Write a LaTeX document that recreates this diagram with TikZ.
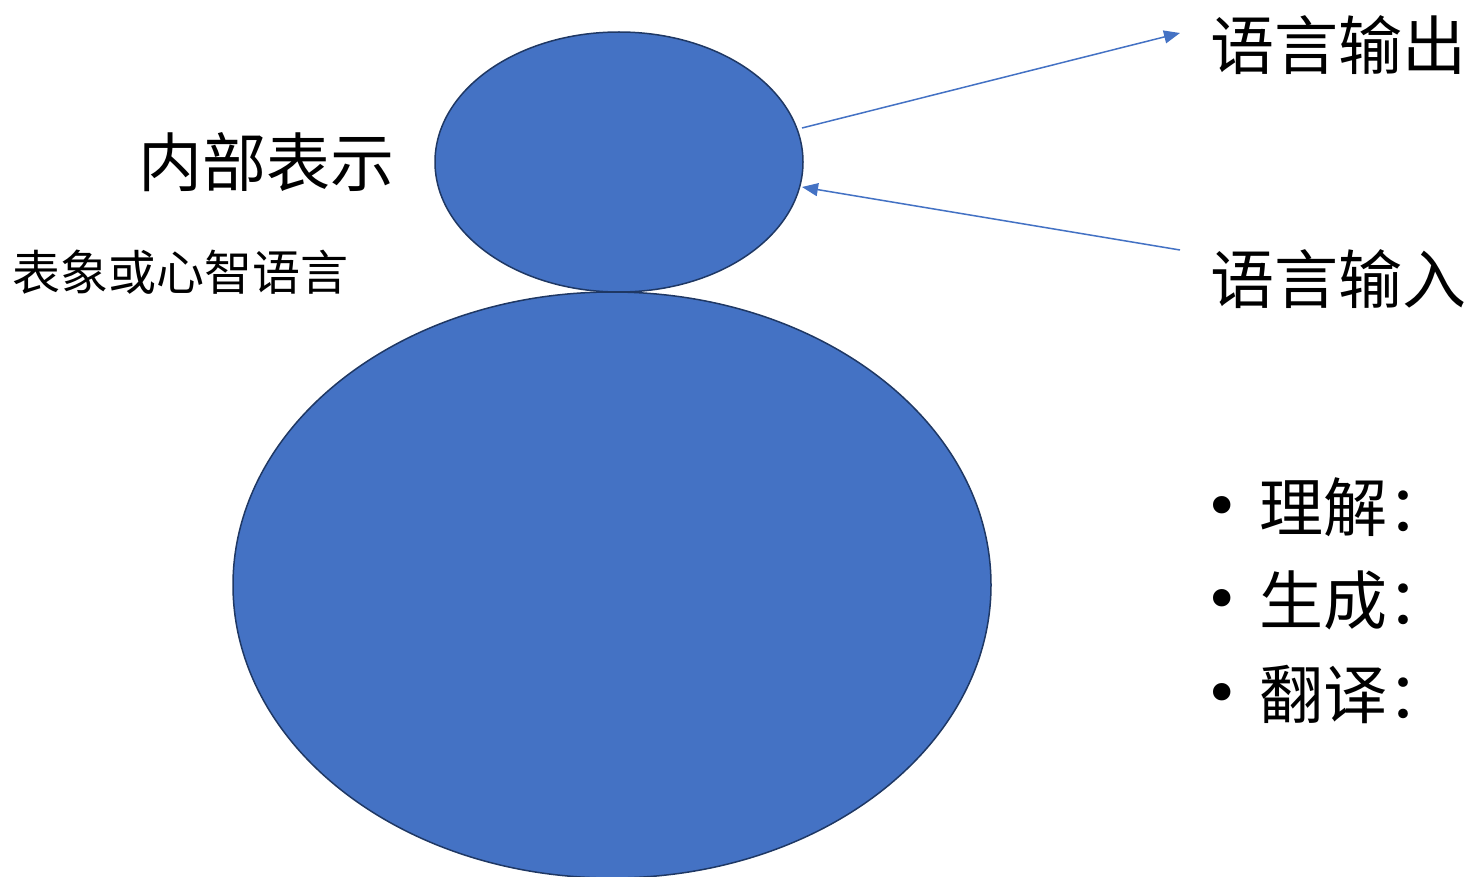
\documentclass[tikz,border=0pt]{standalone}
\usepackage{fontspec}
\newfontfamily\cjk{Noto Sans CJK SC}
\newfontfamily\dv{DejaVu Sans}
\usetikzlibrary{shapes.geometric,arrows.meta}
\definecolor{fillblue}{HTML}{4472C4}
\definecolor{edgeblue}{HTML}{1F3864}
\tikzset{
  blob/.style={ellipse, fill=fillblue, draw=edgeblue, line width=1.5pt, inner sep=0pt},
  conn/.style={draw=fillblue, line width=1.5pt, -{Triangle[length=16pt,width=13pt]}},
  bigtxt/.style={font=\cjk\fontsize{64}{70}\selectfont, inner sep=0pt, anchor=west},
  midtxt/.style={font=\cjk\fontsize{48}{54}\selectfont, inner sep=0pt, anchor=west},
  bul/.style={font=\dv\fontsize{60}{64}\selectfont, inner sep=0pt, anchor=center}
}
\begin{document}
\begin{tikzpicture}[x=1pt,y=-1pt]
\useasboundingbox (0,0) rectangle (1473,877);
\node[blob, minimum width=758pt, minimum height=586pt] (big) at (612,585) {};
\node[blob, minimum width=368pt, minimum height=260pt] (small) at (619,162) {};
\node[bigtxt] (inner) at (138,162) {内部表示};
\node[midtxt] (mental) at (12,272) {表象或心智语言};
\node[bigtxt] (out) at (1210,45) {语言输出};
\node[bigtxt] (in) at (1210,279) {语言输入};
\node[bul] (b1) at (1222,512) {•};
\node[bigtxt] (t1) at (1259,507) {理解：};
\node[bul] (b2) at (1222,605) {•};
\node[bigtxt] (t2) at (1259,600) {生成：};
\node[bul] (b3) at (1222,699) {•};
\node[bigtxt] (t3) at (1259,694) {翻译：};
\coordinate (o1) at (802,128);
\coordinate (o2) at (1180,33);
\coordinate (i1) at (1180,250);
\coordinate (i2) at (802,187);
\draw[conn] (o1) -- (o2);
\draw[conn] (i1) -- (i2);
\end{tikzpicture}
\end{document}
